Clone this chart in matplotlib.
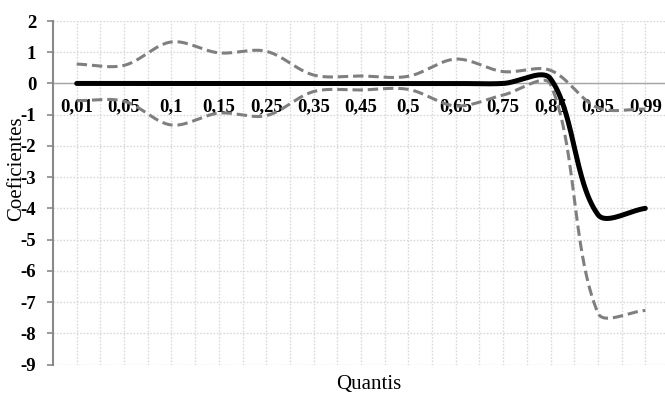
import numpy as np
import matplotlib
matplotlib.use("Agg")
import matplotlib.pyplot as plt

categories = ['0,01', '0,05', '0,1', '0,15', '0,25', '0,35', '0,45', '0,5',
              '0,65', '0,75', '0,85', '0,95', '0,99']
coef = [0, 0, 0, 0, 0, 0, 0, 0, 0, 0, 0.15, -4.2, -4.0]
upper = [0.62, 0.58, 1.33, 0.98, 1.03, 0.27, 0.24, 0.23, 0.78, 0.38, 0.42, -0.78, -0.82]
lower = [-0.55, -0.57, -1.33, -0.95, -1.03, -0.26, -0.21, -0.19, -0.72, -0.37, -0.03, -7.35, -7.27]
yticks = list(range(-9, 3))

plt.rcParams['font.family'] = ['Liberation Serif', 'DejaVu Serif']
plt.rcParams['axes.unicode_minus'] = False

W, H = 665, 394
fig = plt.figure(figsize=(W / 100, H / 100), dpi=100)
left_px, right_px, top_px, bot_px = 53, 669, 21, 364.5
ax = fig.add_axes([left_px / W, 1 - bot_px / H, (right_px - left_px) / W, (bot_px - top_px) / H])

ax.set_xlim(-0.5, len(categories) - 0.5)
ax.set_ylim(-9, 2)

# pixel scales (for chord-length weighted smoothing like Excel)
sx = (right_px - left_px) / len(categories)
sy = (bot_px - top_px) / 11.0


def smooth(xs, ys, n=60):
    P = np.column_stack([np.asarray(xs, float) * sx, np.asarray(ys, float) * sy])
    m = len(P)
    pts = [P[0]]
    t = np.linspace(0, 1, n)[1:][:, None]
    for i in range(m - 1):
        p0 = P[i - 1] if i > 0 else P[i]
        p1 = P[i]
        p2 = P[i + 1]
        p3 = P[i + 2] if i + 2 < m else P[i + 1]
        d01 = np.linalg.norm(p1 - p0)
        d12 = np.linalg.norm(p2 - p1)
        d23 = np.linalg.norm(p3 - p2)
        c1 = p1 + (p2 - p0) * (d12 / (d01 + d12) / 3 if d01 + d12 > 0 else 0)
        c2 = p2 - (p3 - p1) * (d12 / (d12 + d23) / 3 if d12 + d23 > 0 else 0)
        B = ((1 - t) ** 3) * p1 + 3 * ((1 - t) ** 2) * t * c1 + 3 * (1 - t) * t ** 2 * c2 + t ** 3 * p2
        pts.extend(list(B))
    pts = np.array(pts)
    return pts[:, 0] / sx, pts[:, 1] / sy


x = np.arange(len(categories))

grid_color = '#d9d9d9'
ax.set_xticks(x)
ax.set_xticks(np.arange(0.5, len(categories), 1.0), minor=True)
ax.set_yticks(yticks)
ax.grid(True, which='both', axis='x', color=grid_color, linestyle=(0, (1.2, 1.2)), linewidth=1.0)
ax.grid(True, which='major', axis='y', color=grid_color, linestyle=(0, (1.2, 1.2)), linewidth=1.0)
ax.set_axisbelow(True)

for s in ['top', 'right']:
    ax.spines[s].set_visible(False)
ax.spines['left'].set_color('#898989')
ax.spines['left'].set_linewidth(1.5)
ax.spines['bottom'].set_position(('data', 0))
ax.spines['bottom'].set_color('#a6a6a6')
ax.spines['bottom'].set_linewidth(1.0)
ax.spines['bottom'].set_zorder(1.5)

ax.set_xticklabels(categories, fontsize=13.5, fontweight='bold')
ax.set_yticklabels([str(v) for v in yticks], fontsize=13.5, fontweight='bold')
ax.tick_params(axis='x', which='both', length=0, pad=10.5)
ax.tick_params(axis='y', which='major', length=4, width=1.2, color='#898989', pad=8)
ax.tick_params(axis='y', which='minor', length=0)

gx, gy = smooth(x, upper)
ax.plot(gx, gy, color='#7f7f7f', linewidth=2.2, dashes=(3.4, 1.6), zorder=3)
gx, gy = smooth(x, lower)
ax.plot(gx, gy, color='#7f7f7f', linewidth=2.2, dashes=(3.4, 1.6), zorder=3)
bx, by = smooth(x, coef)
ax.plot(bx, by, color='black', linewidth=3.6, solid_capstyle='round', zorder=4)

fig.text(17 / W, 1 - 169 / H, 'Coeficientes', rotation=90, fontsize=15,
         ha='center', va='center')
fig.text(369 / W, 1 - 389 / H, 'Quantis', fontsize=15, ha='center', va='baseline')

fig.savefig('out.png', dpi=100)
